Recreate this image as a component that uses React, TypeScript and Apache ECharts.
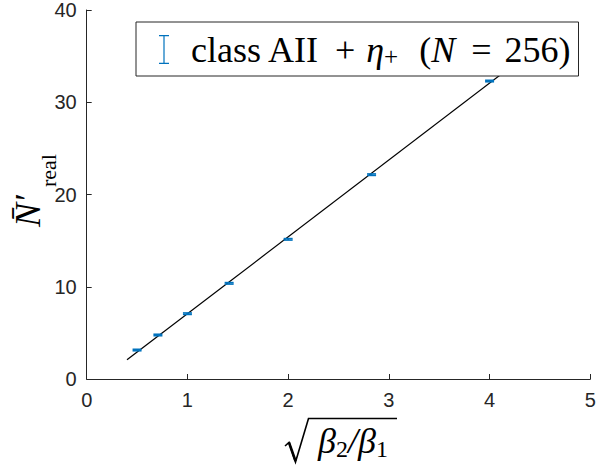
import React, { useEffect, useRef } from "react";
import * as echarts from "echarts";

const xValues = [0.5, 0.7071, 1, 1.4142, 2, 2.8284, 4];
const yValues = [3.14, 4.77, 7.08, 10.37, 15.14, 22.15, 32.3];
const yErrors = [0.08, 0.08, 0.08, 0.08, 0.08, 0.08, 0.08];
const fitX = [0.4, 4.4];
const fitY = [2.08, 35.4];
const xTicks = { min: 0, max: 5, interval: 1 };
const yTicks = { min: 0, max: 40, interval: 10 };
const seriesName = "class AII + η+ (N = 256)";
const yNameMain = "N̄′";
const yNameSub = "real";

const BLUE = "#0072BD";
const AXIS = "#262626";
const SERIF = "'Liberation Serif', 'DejaVu Serif', serif";
const SANS = "'Liberation Sans', Arial, Helvetica, sans-serif";

export default function App() {
  const ref = useRef<HTMLDivElement>(null);
  useEffect(() => {
    if (!ref.current) return;
    const chart = echarts.init(ref.current, null, { renderer: "svg" });
    const errData = xValues.map((x, i) => [x, yValues[i], yErrors[i]]);
    const fitData = fitX.map((x, i) => [x, fitY[i]]);
    chart.setOption({
      animation: false,
      backgroundColor: "#fff",
      grid: {
        left: 86.7,
        right: 5.7,
        top: 10,
        bottom: 87,
        containLabel: false,
        outerBoundsMode: "none",
      },
      xAxis: {
        type: "value",
        min: xTicks.min,
        max: xTicks.max,
        interval: xTicks.interval,
        splitLine: { show: false },
        axisLine: { lineStyle: { color: AXIS, width: 1 } },
        axisTick: { inside: true, length: 5, lineStyle: { color: AXIS } },
        axisLabel: { color: AXIS, fontFamily: SANS, fontSize: 20, margin: 11 },
        name: "{b|β}{s|2}{b|/β}{s|1}",
        nameLocation: "middle",
        nameGap: 40,
        nameTextStyle: {
          fontFamily: SERIF,
          color: "#000",
          padding: [0, 0, 0, 29],
          rich: {
            b: { fontFamily: SERIF, fontStyle: "italic", fontSize: 36, lineHeight: 44, color: "#000" },
            s: { fontFamily: SERIF, fontSize: 24, lineHeight: 20, padding: [16, 0, 0, 0], color: "#000" },
          },
        },
      },
      yAxis: {
        type: "value",
        min: yTicks.min,
        max: yTicks.max,
        interval: yTicks.interval,
        splitLine: { show: false },
        axisLine: { show: true, lineStyle: { color: AXIS, width: 1 } },
        axisTick: { show: true, inside: true, length: 5, lineStyle: { color: AXIS } },
        axisLabel: { color: AXIS, fontFamily: SANS, fontSize: 20, margin: 10 },
      },
      legend: {
        left: 136,
        top: 22,
        z: 10,
        padding: [8, 8, 7, 23],
        backgroundColor: "#fff",
        borderColor: AXIS,
        borderWidth: 1,
        borderRadius: 0,
        itemWidth: 10,
        itemHeight: 29,
        data: [
          {
            name: seriesName,
            icon: "path://M0,0h10v1.2h-4.4v26.6h4.4v1.2h-10v-1.2h4.4v-26.6h-4.4z",
            itemStyle: { color: BLUE },
          },
        ],
        formatter: () => "{a|class AII}{op|+}{i|η}{s|+}{lp|(}{i|N}{eq|=}{t|256)}",
        textStyle: {
          color: "#000",
          fontFamily: SERIF,
          fontSize: 36,
          rich: {
            a: { fontFamily: SERIF, fontSize: 36, lineHeight: 29, padding: [0, 0, 0, 17], color: "#000" },
            op: { fontFamily: SERIF, fontSize: 36, lineHeight: 29, padding: [0, 11, 0, 15], color: "#000" },
            eq: { fontFamily: SERIF, fontSize: 36, lineHeight: 29, padding: [0, 13, 0, 16], color: "#000" },
            lp: { fontFamily: SERIF, fontSize: 36, lineHeight: 29, padding: [0, 0, 0, 21], color: "#000" },
            t: { fontFamily: SERIF, fontSize: 36, lineHeight: 29, color: "#000" },
            i: { fontFamily: SERIF, fontStyle: "italic", fontSize: 36, lineHeight: 29, color: "#000" },
            s: { fontFamily: SERIF, fontSize: 25, lineHeight: 14, padding: [14, 0, 0, 0], color: "#000" },
          },
        },
      },
      graphic: [
        {
          type: "text",
          x: 27.9,
          y: 227,
          rotation: Math.PI / 2,
          style: {
            text: yNameMain,
            fill: "#000",
            font: `italic 36px ${SERIF}`,
            align: "left",
            verticalAlign: "middle",
          },
        },
        {
          type: "text",
          x: 48.4,
          y: 187,
          rotation: Math.PI / 2,
          style: {
            text: yNameSub,
            fill: "#000",
            font: `22px ${SERIF}`,
            align: "left",
            verticalAlign: "middle",
          },
        },
        {
          type: "polyline",
          shape: {
            points: [
              [285, 446],
              [289, 442.5],
              [295.5, 462],
              [308.5, 418.5],
              [397, 418.5],
            ],
          },
          style: { stroke: "#000", lineWidth: 1.6, fill: "none", lineJoin: "miter" },
        },
        {
          type: "line",
          shape: { x1: 289, y1: 442.5, x2: 295.5, y2: 461 },
          style: { stroke: "#000", lineWidth: 2.6 },
        },
      ],
      series: [
        {
          name: "fit",
          type: "line",
          data: fitData,
          showSymbol: false,
          symbol: "none",
          lineStyle: { color: "#000", width: 1.2 },
          z: 2,
          silent: true,
        },
        {
          name: seriesName,
          type: "custom",
          data: errData,
          z: 3,
          itemStyle: { color: BLUE },
          renderItem: (params: any, api: any) => {
            const x = api.value(0);
            const y = api.value(1);
            const e = api.value(2);
            const top = api.coord([x, y + e]);
            const bot = api.coord([x, y - e]);
            const hw = 4.5;
            const style = { stroke: BLUE, lineWidth: 1.6 };
            return {
              type: "group",
              children: [
                { type: "line", shape: { x1: top[0], y1: top[1], x2: bot[0], y2: bot[1] }, style },
                { type: "line", shape: { x1: top[0] - hw, y1: top[1], x2: top[0] + hw, y2: top[1] }, style },
                { type: "line", shape: { x1: bot[0] - hw, y1: bot[1], x2: bot[0] + hw, y2: bot[1] }, style },
              ],
            };
          },
        },
      ],
    });
    return () => chart.dispose();
  }, []);
  return (
    <div
      ref={ref}
      style={{ position: "absolute", left: 0, top: 0, width: 596, height: 466 }}
    />
  );
}
